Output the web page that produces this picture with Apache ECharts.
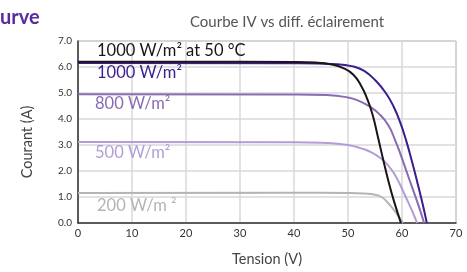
<!DOCTYPE html>
<html>
<head>
<meta charset="utf-8">
<script src="https://cdn.jsdelivr.net/npm/echarts@6/dist/echarts.min.js"></script>
<style>
  html, body { margin: 0; padding: 0; background: #fff; }
  #chart { width: 467px; height: 272px; }
</style>
</head>
<body>
<div id="chart"></div>
<script>
// courbes I-V : [tension (V), courant (A)]
const hot1000 = [[0, 6.2], [20, 6.2], [40, 6.19], [44, 6.17], [47, 6.1], [49, 5.97], [51, 5.7], [52.5, 5.25], [53.5, 4.8], [54.5, 4.2], [55.5, 3.35], [56.5, 2.45], [57.5, 1.6], [58.5, 0.85], [59.8, 0]]
const irr1000 = [[0, 6.15], [40, 6.14], [48, 6.11], [51, 6.02], [53, 5.85], [55, 5.5], [57, 5.0], [58.5, 4.45], [59.7, 3.85], [60.8, 3.15], [61.8, 2.4], [62.8, 1.6], [63.8, 0.75], [64.6, 0]]
const irr800 = [[0, 4.95], [40, 4.94], [46, 4.92], [50, 4.83], [52, 4.7], [54, 4.48], [56, 4.15], [57.5, 3.75], [58.7, 3.2], [59.8, 2.6], [60.9, 1.95], [62, 1.3], [63.1, 0.65], [64.1, 0]]
const irr500 = [[0, 3.12], [40, 3.11], [45, 3.09], [48, 3.05], [50, 3.0], [52, 2.9], [54, 2.75], [56, 2.5], [57.5, 2.2], [58.7, 1.85], [59.7, 1.45], [60.7, 1.0], [61.8, 0.5], [62.8, 0]]
const irr200 = [[0, 1.15], [40, 1.16], [50, 1.15], [53, 1.13], [55, 1.09], [56.2, 1.0], [57.2, 0.82], [58.2, 0.58], [59.2, 0.3], [60.2, 0]]

const names = ['1000 W/m² at 50 °C', '1000 W/m²', '800 W/m²', '500 W/m²', '200 W/m ²']
const colors = ['#1c1416', '#3d1c8e', '#8a6bb4', '#b39dd6', '#b4b4b4']
const curves = [hot1000, irr1000, irr800, irr500, irr200]

const font = 'Lato, "Open Sans", sans-serif'
const chart = echarts.init(document.getElementById('chart'))

const labelPos = [[97, 51], [97, 73], [95, 104], [95, 153], [97, 206]]

const option = {
  animation: false,
  title: {
    text: 'Courbe IV vs diff. éclairement',
    left: 282, top: 10, textAlign: 'center',
    textStyle: { fontFamily: font, fontSize: 15, fontWeight: 'normal', color: '#555' }
  },
  grid: { left: 78, right: 11, top: 41, bottom: 45, show: true, borderColor: '#999', borderWidth: 1 },
  xAxis: {
    type: 'value', min: 0, max: 70, interval: 10,
    name: 'Tension (V)', nameLocation: 'middle', nameGap: 29,
    nameTextStyle: { fontFamily: font, fontSize: 14.5, color: '#444' },
    axisLine: { lineStyle: { color: '#333', width: 1.5 } },
    axisTick: { show: false },
    axisLabel: { fontFamily: font, fontSize: 11, color: '#333', margin: 5 },
    splitLine: { lineStyle: { color: '#d9d9d9', width: 1.5 } }
  },
  yAxis: {
    type: 'value', min: 0, max: 7, interval: 1,
    axisLine: { show: true, lineStyle: { color: '#333', width: 1.5 } },
    axisTick: { show: false },
    axisLabel: { fontFamily: font, fontSize: 10, color: '#333', margin: 6, formatter: v => v.toFixed(1) },
    splitLine: { lineStyle: { color: '#d9d9d9', width: 1.5 } }
  },
  series: curves.map((d, i) => ({
    type: 'line', name: names[i], data: d, smooth: 0.5, showSymbol: false,
    z: 10 - i,
    lineStyle: { color: colors[i], width: 2 }
  })),
  graphic: [
    {
      type: 'text', left: 0, top: 8,
      style: { text: 'urve', font: 'bold 20px ' + font, fill: '#5b2a9c' }
    },
    {
      type: 'text', x: 27, y: 142, rotation: Math.PI / 2,
      style: { text: 'Courant (A)', font: '14.5px ' + font, fill: '#444', textAlign: 'center', textVerticalAlign: 'middle' }
    }
  ].concat(names.map((n, i) => ({
    type: 'text', x: labelPos[i][0], y: labelPos[i][1], z: 100,
    style: { text: n, font: '16.5px ' + font, fill: colors[i], textVerticalAlign: 'middle' }
  })))
}

chart.setOption(option)
</script>
</body>
</html>
